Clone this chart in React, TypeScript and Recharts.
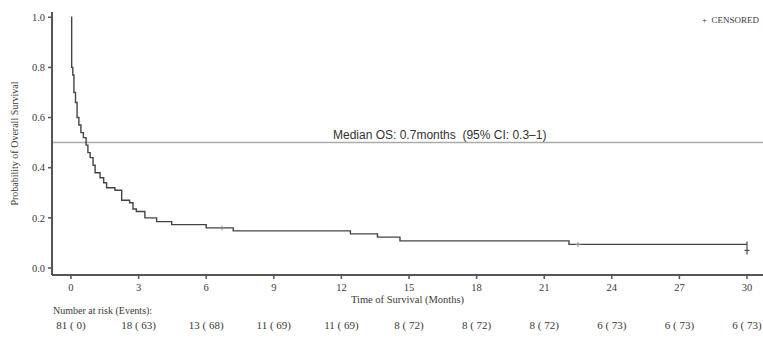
import { ComposedChart, Line, Scatter, XAxis, YAxis, ReferenceLine } from 'recharts'

// KM step points (months, survival probability)
const times = [0, 0.03, 0.08, 0.13, 0.2, 0.27, 0.35, 0.44, 0.55, 0.67, 0.75, 0.85, 0.98, 1.07, 1.29, 1.45, 1.58, 1.95, 2.25, 2.6, 2.75, 2.9, 3.28, 3.8, 4.47, 6.0, 7.2, 12.4, 13.6, 14.6, 22.1, 30]
const survival = [1.0, 0.8, 0.77, 0.7, 0.66, 0.6, 0.57, 0.54, 0.52, 0.49, 0.46, 0.44, 0.41, 0.38, 0.36, 0.34, 0.32, 0.31, 0.27, 0.26, 0.235, 0.225, 0.2, 0.185, 0.173, 0.16, 0.148, 0.136, 0.123, 0.108, 0.094, 0.094]

const censorTimes = [6.7, 22.5, 30]
const censorSurvival = [0.16, 0.094, 0.094]

const xTicks = [0, 3, 6, 9, 12, 15, 18, 21, 24, 27, 30]
const yTicks = [0, 0.2, 0.4, 0.6, 0.8, 1.0]
const atRisk = [81, 18, 13, 11, 11, 8, 8, 8, 6, 6, 6]
const events = [0, 63, 68, 69, 69, 72, 72, 72, 73, 73, 73]

const curve = times.map((t, i) => ({ t, s: survival[i] }))
const censored = censorTimes.map((t, i) => ({ t, s: censorSurvival[i], last: i === censorTimes.length - 1 }))

const SERIF = '"Liberation Serif", "DejaVu Serif", serif'
const INK = '#3a3a3a'

function TimeTick(props: any) {
  const { x, y, payload, index } = props
  return (
    <g>
      <text x={x} y={y + 10} textAnchor="middle" fontFamily={SERIF} fontSize={10.5} fill={INK}>
        {payload.value}
      </text>
      <text x={x} y={y + 48} textAnchor="middle" fontFamily={SERIF} fontSize={11} fill={INK} xmlSpace="preserve">
        {`${atRisk[index]} ( ${events[index]})`}
      </text>
    </g>
  )
}

function CensorMark(props: any) {
  const { cx, cy, payload } = props
  if (payload.last) {
    return (
      <g stroke="#555" strokeWidth={1.3}>
        <line x1={cx} x2={cx} y1={cy - 3} y2={cy + 10} />
        <line x1={cx - 2.5} x2={cx + 2.5} y1={cy + 6} y2={cy + 6} />
      </g>
    )
  }
  return (
    <g stroke="#888" strokeWidth={1}>
      <line x1={cx} x2={cx} y1={cy - 2.5} y2={cy + 2.5} />
      <line x1={cx - 2.5} x2={cx + 2.5} y1={cy} y2={cy} />
    </g>
  )
}

export default function App() {
  return (
    <div style={{ position: 'fixed', left: 0, top: 0, width: 763, height: 338, overflow: 'hidden', background: '#fff' }}>
      <ComposedChart width={763} height={338} margin={{ top: 12, right: 0, bottom: 0, left: 0 }}>
        <XAxis
          xAxisId="top"
          orientation="top"
          type="number"
          domain={[-0.843, 30.71]}
          height={0}
          tick={false}
          tickLine={false}
          axisLine={{ stroke: '#555', strokeWidth: 2 }}
        />
        <XAxis
          dataKey="t"
          type="number"
          domain={[-0.843, 30.71]}
          ticks={xTicks}
          allowDataOverflow
          height={63}
          tickSize={4}
          tickMargin={2}
          axisLine={{ stroke: '#555', strokeWidth: 2 }}
          tickLine={{ stroke: '#555', strokeWidth: 1.5 }}
          tick={<TimeTick />}
          label={{ value: 'Time of Survival (Months)', position: 'insideTop', offset: 21, fontFamily: SERIF, fontSize: 10.5, fill: INK }}
        />
        <YAxis
          dataKey="s"
          type="number"
          domain={[-0.028, 1.021]}
          ticks={yTicks}
          allowDataOverflow
          width={52}
          tickSize={4}
          tickMargin={3}
          tickFormatter={(v: number) => v.toFixed(1)}
          axisLine={{ stroke: '#555', strokeWidth: 2 }}
          tickLine={{ stroke: '#555', strokeWidth: 1.5 }}
          tick={{ fontFamily: SERIF, fontSize: 10.5, fill: INK }}
          label={{ value: 'Probability of Overall Survival', angle: -90, position: 'insideLeft', offset: 14, style: { textAnchor: 'middle' }, fontFamily: SERIF, fontSize: 10, fill: INK }}
        />
        <ReferenceLine
          y={0.5}
          stroke="#aaa"
          strokeWidth={1.5}
          label={(p: any) => (
            <text x={p.viewBox.x + 281} y={p.viewBox.y - 4} fontFamily='"Liberation Sans", Arial, sans-serif' fontSize={12} fill="#333" xmlSpace="preserve">
              {'Median OS: 0.7months  (95% CI: 0.3–1)'}
            </text>
          )}
        />
        <Line
          data={curve}
          dataKey="s"
          type="stepAfter"
          stroke="#444"
          strokeWidth={1.4}
          dot={false}
          isAnimationActive={false}
        />
        <Scatter data={censored} dataKey="s" shape={<CensorMark />} isAnimationActive={false} />
      </ComposedChart>
      <div style={{ position: 'absolute', left: 53, top: 305, fontFamily: SERIF, fontSize: 10, color: INK, lineHeight: '12px', whiteSpace: 'nowrap' }}>
        Number at risk (Events):
      </div>
      <div style={{ position: 'absolute', left: 702, top: 14, fontFamily: SERIF, fontSize: 9, color: INK, lineHeight: '12px', whiteSpace: 'pre' }}>
        {'+  CENSORED'}
      </div>
    </div>
  )
}
